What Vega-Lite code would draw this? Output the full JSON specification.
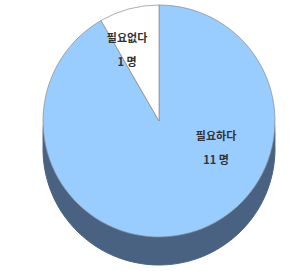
{
  "$schema": "https://vega.github.io/schema/vega-lite/v6.json",
  "width": 232,
  "height": 232,
  "padding": {"left": 41, "top": 3, "right": 25, "bottom": 36},
  "background": "white",
  "config": {"view": {"stroke": null}},
  "data": {
    "values": [
      {"answer": "필요하다", "count": 11, "order": 1, "label": "필요하다\n11 명"},
      {"answer": "필요없다", "count": 1, "order": 2, "label": "필요없다\n1 명"}
    ]
  },
  "encoding": {
    "theta": {"field": "count", "type": "quantitative", "stack": true},
    "order": {"field": "order", "type": "quantitative"}
  },
  "layer": [
    {
      "mark": {"type": "arc", "yOffset": 28, "color": "#4a6282", "stroke": "#4a6282", "strokeWidth": 1}
    },
    {
      "mark": {"type": "arc", "yOffset": 14, "color": "#4a6282", "stroke": "#4a6282", "strokeWidth": 1}
    },
    {
      "mark": {"type": "arc", "stroke": "#8a8a8a", "strokeWidth": 0.7},
      "encoding": {
        "color": {
          "field": "answer",
          "type": "nominal",
          "scale": {"domain": ["필요하다", "필요없다"], "range": ["#99ccff", "#ffffff"]},
          "legend": null
        }
      }
    },
    {
      "transform": [{"filter": "datum.order == 1"}],
      "mark": {"type": "text", "radius": 0, "dx": 57, "dy": 16, "lineBreak": "\n", "lineHeight": 24, "font": "Noto Sans CJK KR", "fontSize": 11, "fontWeight": "bold", "color": "#333333", "align": "center", "baseline": "middle"},
      "encoding": {"text": {"field": "label"}}
    },
    {
      "transform": [{"filter": "datum.order == 2"}],
      "mark": {"type": "text", "radius": 0, "dx": -32, "dy": -82, "lineBreak": "\n", "lineHeight": 24, "font": "Noto Sans CJK KR", "fontSize": 11, "fontWeight": "bold", "color": "#333333", "align": "center", "baseline": "middle"},
      "encoding": {"text": {"field": "label"}}
    }
  ]
}
